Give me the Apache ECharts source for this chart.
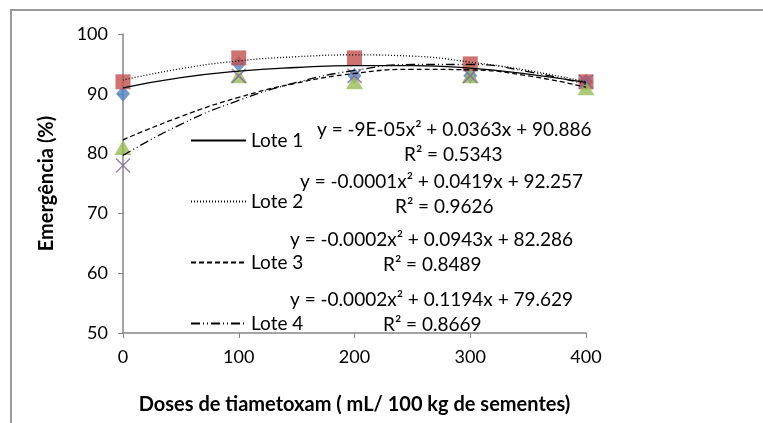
<!DOCTYPE html>
<html>
<head>
<meta charset="utf-8">
<script src="https://cdn.jsdelivr.net/npm/echarts@6/dist/echarts.min.js"></script>
<style>
  html, body { margin: 0; padding: 0; background: #fff; }
  #chart { width: 763px; height: 423px; }
</style>
</head>
<body>
<div id="chart"></div>
<script>
// doses (mL / 100 kg de sementes)
const doses = [0, 100, 200, 300, 400]
// observed emergence (%)
const lote1 = [90, 95, 93, 93, 92]
const lote2 = [92, 96, 96, 95, 92]
const lote3 = [81, 93, 92, 93, 91]
const lote4 = [78, 93, 93, 93, 92]

// trendline readings from the picture
const trendX = [0, 50, 100, 150, 200, 250, 300, 350, 400]
const trend1 = [91.0, 92.7, 93.8, 94.4, 94.7, 94.7, 94.3, 93.3, 91.9]
const trend2 = [92.3, 94.2, 95.5, 96.2, 96.5, 96.3, 95.3, 93.9, 92.0]
const trend3 = [82.3, 86.2, 89.4, 91.8, 93.4, 94.1, 94.0, 93.0, 91.1]
const trend4 = [79.7, 84.9, 88.9, 91.9, 93.9, 94.9, 94.9, 93.7, 91.6]

const equations = [
  ['y = -9E-05x² + 0.0363x + 90.886', 'R² = 0.5343'],
  ['y = -0.0001x² + 0.0419x + 92.257', 'R² = 0.9626'],
  ['y = -0.0002x² + 0.0943x + 82.286', 'R² = 0.8489'],
  ['y = -0.0002x² + 0.1194x + 79.629', 'R² = 0.8669']
]

const font = 'Lato'
const pair = (xs, ys) => xs.map((x, i) => [x, ys[i]])

const markerSeries = [
  { name: 'd1', data: lote1, symbol: 'diamond', size: [14, 16], color: '#4F81BD' },
  { name: 'd2', data: lote2, symbol: 'rect', size: 15, color: '#C0504D' },
  { name: 'd3', data: lote3, symbol: 'triangle', size: [17, 15], color: '#9BBB59' },
  { name: 'd4', data: lote4, symbol: 'path://M0,0L10,10M10,0L0,10', size: 14, color: '#8064A2' }
].map(s => ({
  name: s.name,
  type: 'scatter',
  data: pair(doses, s.data),
  symbol: s.symbol,
  symbolSize: s.size,
  itemStyle: s.name === 'd4'
    ? { color: 'transparent', borderColor: s.color, borderWidth: 1.5 }
    : { color: s.color },
  silent: true
}))

const trendSeries = [
  { name: 'Lote 1', data: trend1, type: 'solid' },
  { name: 'Lote 2', data: trend2, type: [1, 2] },
  { name: 'Lote 3', data: trend3, type: [5, 3] },
  { name: 'Lote 4', data: trend4, type: [9, 3, 1, 3, 1, 3] }
].map(s => ({
  name: s.name,
  type: 'line',
  data: pair(trendX, s.data),
  smooth: true,
  symbol: 'none',
  z: 5,
  itemStyle: { color: '#000' },
  lineStyle: { color: '#000', width: 1.3, type: s.type }
}))

const eqTop = [120, 172, 230, 290]
const eqLeft = [317, 300, 290, 290]
const rLeft = [404, 395, 383, 383]
const graphics = [{
  type: 'rect',
  shape: { x: 11, y: 10, width: 800, height: 500 },
  style: { fill: 'none', stroke: '#9a9a9a', lineWidth: 2 },
  silent: true
}]
equations.forEach((e, i) => {
  graphics.push({
    type: 'text', left: eqLeft[i], top: eqTop[i], z: 10,
    style: { text: e[0], font: '19px ' + font, fill: '#000' }
  })
  graphics.push({
    type: 'text', left: rLeft[i], top: eqTop[i] + 25, z: 10,
    style: { text: e[1], font: '19px ' + font, fill: '#000' }
  })
})

const chart = echarts.init(document.getElementById('chart'))
chart.setOption({
  animation: false,
  backgroundColor: '#fff',
  textStyle: { fontFamily: font },
  grid: { left: 123, right: 177, top: 34, bottom: 90 },
  legend: {
    data: ['Lote 1', 'Lote 2', 'Lote 3', 'Lote 4'],
    orient: 'vertical',
    left: 185,
    top: 126,
    itemWidth: 55,
    itemHeight: 14,
    itemGap: 42,
    itemStyle: { opacity: 0 },
    textStyle: { fontFamily: font, fontSize: 19, color: '#000', lineHeight: 19 },
    selectedMode: false
  },
  xAxis: {
    type: 'value',
    min: 0,
    max: 400,
    interval: 100,
    name: 'Doses de tiametoxam ( mL/ 100 kg de sementes)',
    nameLocation: 'middle',
    nameGap: 62,
    nameTextStyle: { fontFamily: font, fontSize: 20, fontWeight: 'bold', color: '#000' },
    axisLine: { lineStyle: { color: '#868686', width: 1.5 } },
    axisTick: { show: true, length: 5, lineStyle: { color: '#868686' } },
    axisLabel: { fontFamily: font, fontSize: 18, color: '#000', margin: 15 },
    splitLine: { show: false }
  },
  yAxis: {
    type: 'value',
    min: 50,
    max: 100,
    interval: 10,
    name: 'Emergência (%)',
    nameLocation: 'middle',
    nameGap: 66,
    nameRotate: 90,
    nameTextStyle: { fontFamily: font, fontSize: 20, fontWeight: 'bold', color: '#000' },
    axisLine: { show: true, lineStyle: { color: '#868686', width: 1.5 } },
    axisTick: { show: true, length: 5, lineStyle: { color: '#868686' } },
    axisLabel: { fontFamily: font, fontSize: 18, color: '#000', margin: 15 },
    splitLine: { show: false }
  },
  graphic: graphics,
  series: [...markerSeries, ...trendSeries]
})
</script>
</body>
</html>
